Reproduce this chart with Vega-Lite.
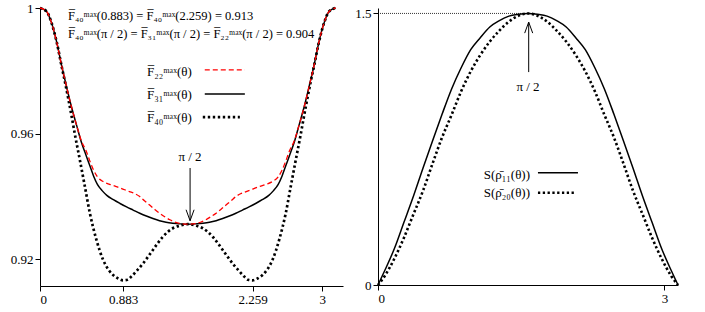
{
  "$schema": "https://vega.github.io/schema/vega-lite/v6.json",
  "padding": {"left": 10, "top": 2, "right": 0, "bottom": 0},
  "bounds": "flush",
  "spacing": 35,
  "config": {
    "view": {"stroke": null},
    "axis": {"grid": false, "domainColor": "black", "tickColor": "black", "labelColor": "black", "labelFont": "Liberation Serif", "labelFontSize": 13, "tickSize": 5, "labelPadding": 2, "domainWidth": 1, "tickWidth": 1},
    "text": {"font": "Liberation Serif", "fontSize": 13, "color": "black"},
    "line": {"interpolate": "monotone"}
  },
  "datasets": {
    "left": [
      {"s": "F31", "t": 0, "v": 1.0}, {"s": "F31", "t": 0.07, "v": 0.9989}, {"s": "F31", "t": 0.12, "v": 0.9955}, {"s": "F31", "t": 0.18, "v": 0.9888}, {"s": "F31", "t": 0.23, "v": 0.9816}, {"s": "F31", "t": 0.28, "v": 0.9752}, {"s": "F31", "t": 0.33, "v": 0.969}, {"s": "F31", "t": 0.39, "v": 0.9625}, {"s": "F31", "t": 0.44, "v": 0.9572}, {"s": "F31", "t": 0.49, "v": 0.953}, {"s": "F31", "t": 0.53, "v": 0.9497}, {"s": "F31", "t": 0.57, "v": 0.9464}, {"s": "F31", "t": 0.61, "v": 0.9438}, {"s": "F31", "t": 0.66, "v": 0.9418}, {"s": "F31", "t": 0.71, "v": 0.9403}, {"s": "F31", "t": 0.78, "v": 0.9389}, {"s": "F31", "t": 0.85, "v": 0.9377}, {"s": "F31", "t": 0.92, "v": 0.9366}, {"s": "F31", "t": 0.99, "v": 0.9356}, {"s": "F31", "t": 1.06, "v": 0.9346}, {"s": "F31", "t": 1.13, "v": 0.9337}, {"s": "F31", "t": 1.2, "v": 0.9329}, {"s": "F31", "t": 1.27, "v": 0.9322}, {"s": "F31", "t": 1.34, "v": 0.9317}, {"s": "F31", "t": 1.41, "v": 0.9314}, {"s": "F31", "t": 1.49, "v": 0.9312}, {"s": "F31", "t": 1.5708, "v": 0.9311},
      {"s": "F31", "t": 1.6516, "v": 0.9312}, {"s": "F31", "t": 1.7316, "v": 0.9314}, {"s": "F31", "t": 1.8016, "v": 0.9317}, {"s": "F31", "t": 1.8716, "v": 0.9322}, {"s": "F31", "t": 1.9416, "v": 0.9329}, {"s": "F31", "t": 2.0116, "v": 0.9337}, {"s": "F31", "t": 2.0816, "v": 0.9346}, {"s": "F31", "t": 2.1516, "v": 0.9356}, {"s": "F31", "t": 2.2216, "v": 0.9366}, {"s": "F31", "t": 2.2916, "v": 0.9377}, {"s": "F31", "t": 2.3616, "v": 0.9389}, {"s": "F31", "t": 2.4316, "v": 0.9403}, {"s": "F31", "t": 2.4816, "v": 0.9418}, {"s": "F31", "t": 2.5316, "v": 0.9438}, {"s": "F31", "t": 2.5716, "v": 0.9464}, {"s": "F31", "t": 2.6116, "v": 0.9497}, {"s": "F31", "t": 2.6516, "v": 0.953}, {"s": "F31", "t": 2.7016, "v": 0.9572}, {"s": "F31", "t": 2.7516, "v": 0.9625}, {"s": "F31", "t": 2.8116, "v": 0.969}, {"s": "F31", "t": 2.8616, "v": 0.9752}, {"s": "F31", "t": 2.9116, "v": 0.9816}, {"s": "F31", "t": 2.9616, "v": 0.9888}, {"s": "F31", "t": 3.0216, "v": 0.9955}, {"s": "F31", "t": 3.0716, "v": 0.9989}, {"s": "F31", "t": 3.1416, "v": 1.0},

      {"s": "F22", "t": 0, "v": 1.0}, {"s": "F22", "t": 0.07, "v": 0.9989}, {"s": "F22", "t": 0.12, "v": 0.9955}, {"s": "F22", "t": 0.18, "v": 0.9888}, {"s": "F22", "t": 0.23, "v": 0.9816}, {"s": "F22", "t": 0.28, "v": 0.9752}, {"s": "F22", "t": 0.33, "v": 0.969}, {"s": "F22", "t": 0.39, "v": 0.9625}, {"s": "F22", "t": 0.44, "v": 0.9576}, {"s": "F22", "t": 0.49, "v": 0.9545}, {"s": "F22", "t": 0.53, "v": 0.9512}, {"s": "F22", "t": 0.57, "v": 0.9483}, {"s": "F22", "t": 0.61, "v": 0.9462}, {"s": "F22", "t": 0.67, "v": 0.9447}, {"s": "F22", "t": 0.74, "v": 0.9438}, {"s": "F22", "t": 0.81, "v": 0.9431}, {"s": "F22", "t": 0.88, "v": 0.9423}, {"s": "F22", "t": 0.95, "v": 0.9415}, {"s": "F22", "t": 1.01, "v": 0.9408}, {"s": "F22", "t": 1.06, "v": 0.9399}, {"s": "F22", "t": 1.11, "v": 0.9386}, {"s": "F22", "t": 1.165, "v": 0.9372}, {"s": "F22", "t": 1.22, "v": 0.9358}, {"s": "F22", "t": 1.27, "v": 0.9346}, {"s": "F22", "t": 1.33, "v": 0.9334}, {"s": "F22", "t": 1.38, "v": 0.9325}, {"s": "F22", "t": 1.43, "v": 0.9318}, {"s": "F22", "t": 1.49, "v": 0.9313}, {"s": "F22", "t": 1.5708, "v": 0.9311},
      {"s": "F22", "t": 1.6516, "v": 0.9313}, {"s": "F22", "t": 1.7116, "v": 0.9318}, {"s": "F22", "t": 1.7616, "v": 0.9325}, {"s": "F22", "t": 1.8116, "v": 0.9334}, {"s": "F22", "t": 1.8716, "v": 0.9346}, {"s": "F22", "t": 1.9216, "v": 0.9358}, {"s": "F22", "t": 1.9766, "v": 0.9372}, {"s": "F22", "t": 2.0316, "v": 0.9386}, {"s": "F22", "t": 2.0816, "v": 0.9399}, {"s": "F22", "t": 2.1316, "v": 0.9408}, {"s": "F22", "t": 2.1916, "v": 0.9415}, {"s": "F22", "t": 2.2616, "v": 0.9423}, {"s": "F22", "t": 2.3316, "v": 0.9431}, {"s": "F22", "t": 2.4016, "v": 0.9438}, {"s": "F22", "t": 2.4716, "v": 0.9447}, {"s": "F22", "t": 2.5316, "v": 0.9462}, {"s": "F22", "t": 2.5716, "v": 0.9483}, {"s": "F22", "t": 2.6116, "v": 0.9512}, {"s": "F22", "t": 2.6516, "v": 0.9545}, {"s": "F22", "t": 2.7016, "v": 0.9576}, {"s": "F22", "t": 2.7516, "v": 0.9625}, {"s": "F22", "t": 2.8116, "v": 0.969}, {"s": "F22", "t": 2.8616, "v": 0.9752}, {"s": "F22", "t": 2.9116, "v": 0.9816}, {"s": "F22", "t": 2.9616, "v": 0.9888}, {"s": "F22", "t": 3.0216, "v": 0.9955}, {"s": "F22", "t": 3.0716, "v": 0.9989}, {"s": "F22", "t": 3.1416, "v": 1.0},

      {"s": "F40", "t": 0, "v": 1.0}, {"s": "F40", "t": 0.07, "v": 0.9989}, {"s": "F40", "t": 0.12, "v": 0.9955}, {"s": "F40", "t": 0.18, "v": 0.9888}, {"s": "F40", "t": 0.23, "v": 0.9814}, {"s": "F40", "t": 0.265, "v": 0.9765}, {"s": "F40", "t": 0.3, "v": 0.9712}, {"s": "F40", "t": 0.336, "v": 0.9655}, {"s": "F40", "t": 0.371, "v": 0.9597}, {"s": "F40", "t": 0.424, "v": 0.9515}, {"s": "F40", "t": 0.477, "v": 0.9431}, {"s": "F40", "t": 0.53, "v": 0.9346}, {"s": "F40", "t": 0.6, "v": 0.9261}, {"s": "F40", "t": 0.671, "v": 0.9197}, {"s": "F40", "t": 0.73, "v": 0.9165}, {"s": "F40", "t": 0.777, "v": 0.9149}, {"s": "F40", "t": 0.83, "v": 0.9138}, {"s": "F40", "t": 0.883, "v": 0.9132}, {"s": "F40", "t": 0.93, "v": 0.9134}, {"s": "F40", "t": 0.971, "v": 0.9144}, {"s": "F40", "t": 1.03, "v": 0.9163}, {"s": "F40", "t": 1.095, "v": 0.9186}, {"s": "F40", "t": 1.15, "v": 0.9208}, {"s": "F40", "t": 1.2, "v": 0.9229}, {"s": "F40", "t": 1.25, "v": 0.925}, {"s": "F40", "t": 1.306, "v": 0.9271}, {"s": "F40", "t": 1.36, "v": 0.9287}, {"s": "F40", "t": 1.412, "v": 0.9298}, {"s": "F40", "t": 1.48, "v": 0.9306}, {"s": "F40", "t": 1.5708, "v": 0.9311},
      {"s": "F40", "t": 1.6616, "v": 0.9306}, {"s": "F40", "t": 1.7296, "v": 0.9298}, {"s": "F40", "t": 1.7816, "v": 0.9287}, {"s": "F40", "t": 1.8356, "v": 0.9271}, {"s": "F40", "t": 1.8916, "v": 0.925}, {"s": "F40", "t": 1.9416, "v": 0.9229}, {"s": "F40", "t": 1.9916, "v": 0.9208}, {"s": "F40", "t": 2.0466, "v": 0.9186}, {"s": "F40", "t": 2.1116, "v": 0.9163}, {"s": "F40", "t": 2.1706, "v": 0.9144}, {"s": "F40", "t": 2.2116, "v": 0.9134}, {"s": "F40", "t": 2.2586, "v": 0.9132}, {"s": "F40", "t": 2.3116, "v": 0.9138}, {"s": "F40", "t": 2.3646, "v": 0.9149}, {"s": "F40", "t": 2.4116, "v": 0.9165}, {"s": "F40", "t": 2.4706, "v": 0.9197}, {"s": "F40", "t": 2.5416, "v": 0.9261}, {"s": "F40", "t": 2.6116, "v": 0.9346}, {"s": "F40", "t": 2.6646, "v": 0.9431}, {"s": "F40", "t": 2.7176, "v": 0.9515}, {"s": "F40", "t": 2.7706, "v": 0.9597}, {"s": "F40", "t": 2.8056, "v": 0.9655}, {"s": "F40", "t": 2.8416, "v": 0.9712}, {"s": "F40", "t": 2.8766, "v": 0.9765}, {"s": "F40", "t": 2.9116, "v": 0.9814}, {"s": "F40", "t": 2.9616, "v": 0.9888}, {"s": "F40", "t": 3.0216, "v": 0.9955}, {"s": "F40", "t": 3.0716, "v": 0.9989}, {"s": "F40", "t": 3.1416, "v": 1.0}
    ],
    "right": [
      {"s": "S11", "t": 0, "v": 0}, {"s": "S11", "t": 0.0708, "v": 0.08}, {"s": "S11", "t": 0.1708, "v": 0.2}, {"s": "S11", "t": 0.2708, "v": 0.345}, {"s": "S11", "t": 0.3708, "v": 0.49}, {"s": "S11", "t": 0.4708, "v": 0.645}, {"s": "S11", "t": 0.5708, "v": 0.796}, {"s": "S11", "t": 0.6708, "v": 0.943}, {"s": "S11", "t": 0.7708, "v": 1.083}, {"s": "S11", "t": 0.8708, "v": 1.2}, {"s": "S11", "t": 0.9708, "v": 1.3}, {"s": "S11", "t": 1.0708, "v": 1.366}, {"s": "S11", "t": 1.1708, "v": 1.425}, {"s": "S11", "t": 1.2708, "v": 1.46}, {"s": "S11", "t": 1.3708, "v": 1.485}, {"s": "S11", "t": 1.4708, "v": 1.495}, {"s": "S11", "t": 1.5708, "v": 1.5},
      {"s": "S11", "t": 1.6708, "v": 1.495}, {"s": "S11", "t": 1.7708, "v": 1.485}, {"s": "S11", "t": 1.8708, "v": 1.46}, {"s": "S11", "t": 1.9708, "v": 1.425}, {"s": "S11", "t": 2.0708, "v": 1.366}, {"s": "S11", "t": 2.1708, "v": 1.3}, {"s": "S11", "t": 2.2708, "v": 1.2}, {"s": "S11", "t": 2.3708, "v": 1.083}, {"s": "S11", "t": 2.4708, "v": 0.943}, {"s": "S11", "t": 2.5708, "v": 0.796}, {"s": "S11", "t": 2.6708, "v": 0.645}, {"s": "S11", "t": 2.7708, "v": 0.49}, {"s": "S11", "t": 2.8708, "v": 0.345}, {"s": "S11", "t": 2.9708, "v": 0.2}, {"s": "S11", "t": 3.0708, "v": 0.08}, {"s": "S11", "t": 3.1416, "v": 0},
      {"s": "S20", "t": 0, "v": 0}, {"s": "S20", "t": 0.0708, "v": 0.05}, {"s": "S20", "t": 0.1708, "v": 0.145}, {"s": "S20", "t": 0.2708, "v": 0.26}, {"s": "S20", "t": 0.3708, "v": 0.39}, {"s": "S20", "t": 0.4708, "v": 0.52}, {"s": "S20", "t": 0.5708, "v": 0.67}, {"s": "S20", "t": 0.6708, "v": 0.815}, {"s": "S20", "t": 0.7708, "v": 0.94}, {"s": "S20", "t": 0.8708, "v": 1.07}, {"s": "S20", "t": 0.9708, "v": 1.18}, {"s": "S20", "t": 1.0708, "v": 1.27}, {"s": "S20", "t": 1.1708, "v": 1.345}, {"s": "S20", "t": 1.2708, "v": 1.405}, {"s": "S20", "t": 1.3708, "v": 1.455}, {"s": "S20", "t": 1.4708, "v": 1.487}, {"s": "S20", "t": 1.5708, "v": 1.5},
      {"s": "S20", "t": 1.6708, "v": 1.487}, {"s": "S20", "t": 1.7708, "v": 1.455}, {"s": "S20", "t": 1.8708, "v": 1.405}, {"s": "S20", "t": 1.9708, "v": 1.345}, {"s": "S20", "t": 2.0708, "v": 1.27}, {"s": "S20", "t": 2.1708, "v": 1.18}, {"s": "S20", "t": 2.2708, "v": 1.07}, {"s": "S20", "t": 2.3708, "v": 0.94}, {"s": "S20", "t": 2.4708, "v": 0.815}, {"s": "S20", "t": 2.5708, "v": 0.67}, {"s": "S20", "t": 2.6708, "v": 0.52}, {"s": "S20", "t": 2.7708, "v": 0.39}, {"s": "S20", "t": 2.8708, "v": 0.26}, {"s": "S20", "t": 2.9708, "v": 0.145}, {"s": "S20", "t": 3.0708, "v": 0.05}, {"s": "S20", "t": 3.1416, "v": 0}
    ]
  },
  "hconcat": [
    {
      "width": 303,
      "height": 278,
      "layer": [
        {"data": {"name": "left"}, "transform": [{"filter": "datum.s === 'F40'"}], "mark": {"type": "line", "color": "black", "strokeWidth": 2.7, "strokeDash": [2.4, 2.6]},
         "encoding": {
           "x": {"field": "t", "type": "quantitative", "scale": {"domain": [0, 3.22], "nice": false, "zero": false}, "axis": {"values": [0, 0.883, 2.259, 3], "format": ".4~g", "title": null}},
           "y": {"field": "v", "type": "quantitative", "scale": {"domain": [0.9114, 1.0], "nice": false, "zero": false}, "axis": {"values": [0.92, 0.96, 1], "format": ".4~g", "title": null}}
         }},
        {"data": {"name": "left"}, "transform": [{"filter": "datum.s === 'F31'"}], "mark": {"type": "line", "color": "black", "strokeWidth": 1.5},
         "encoding": {"x": {"field": "t", "type": "quantitative"}, "y": {"field": "v", "type": "quantitative"}}},
        {"data": {"name": "left"}, "transform": [{"filter": "datum.s === 'F22'"}], "mark": {"type": "line", "color": "#ff0000", "strokeWidth": 1.3, "strokeDash": [5, 3]},
         "encoding": {"x": {"field": "t", "type": "quantitative"}, "y": {"field": "v", "type": "quantitative"}}},
        {"data": {"values": [{}]}, "mark": {"type": "text", "align": "left", "baseline": "middle", "fontSize": 12.5, "text": "F̅₄₀ᵐᵃˣ(0.883) = F̅₄₀ᵐᵃˣ(2.259) = 0.913"}, "encoding": {"x": {"datum": 0.297}, "y": {"datum": 0.9975}}},
        {"data": {"values": [{}]}, "mark": {"type": "text", "align": "left", "baseline": "middle", "fontSize": 12.5, "text": "F̅₄₀ᵐᵃˣ(π / 2) = F̅₃₁ᵐᵃˣ(π / 2) = F̅₂₂ᵐᵃˣ(π / 2) = 0.904"}, "encoding": {"x": {"datum": 0.297}, "y": {"datum": 0.9918}}},
        {"data": {"values": [{}]}, "mark": {"type": "text", "align": "right", "baseline": "middle", "text": "F̅₂₂ᵐᵃˣ(θ)"}, "encoding": {"x": {"datum": 1.613}, "y": {"datum": 0.9797}}},
        {"data": {"values": [{}]}, "mark": {"type": "text", "align": "right", "baseline": "middle", "text": "F̅₃₁ᵐᵃˣ(θ)"}, "encoding": {"x": {"datum": 1.613}, "y": {"datum": 0.9724}}},
        {"data": {"values": [{}]}, "mark": {"type": "text", "align": "right", "baseline": "middle", "text": "F̅₄₀ᵐᵃˣ(θ)"}, "encoding": {"x": {"datum": 1.613}, "y": {"datum": 0.965}}},
        {"data": {"values": [{}]}, "mark": {"type": "rule", "color": "#ff0000", "strokeWidth": 1.3, "strokeDash": [5, 3]}, "encoding": {"x": {"datum": 1.751}, "x2": {"datum": 2.177}, "y": {"datum": 0.9803}}},
        {"data": {"values": [{}]}, "mark": {"type": "rule", "color": "black", "strokeWidth": 1.5}, "encoding": {"x": {"datum": 1.751}, "x2": {"datum": 2.177}, "y": {"datum": 0.9726}}},
        {"data": {"values": [{}]}, "mark": {"type": "rule", "color": "black", "strokeWidth": 2.7, "strokeDash": [2.4, 2.6]}, "encoding": {"x": {"datum": 1.73}, "x2": {"datum": 2.124}, "y": {"datum": 0.9652}}},
        {"data": {"values": [{}]}, "mark": {"type": "text", "align": "center", "baseline": "middle", "text": "π / 2"}, "encoding": {"x": {"datum": 1.594}, "y": {"datum": 0.95255}}},
        {"data": {"values": [{}]}, "mark": {"type": "rule", "color": "black", "strokeWidth": 1}, "encoding": {"x": {"datum": 1.595}, "y": {"datum": 0.949}, "y2": {"datum": 0.9322}}},
        {"data": {"values": [{}]}, "mark": {"type": "point", "shape": "M-1,-2.75L0,0L1,-2.75", "size": 64, "filled": false, "stroke": "black", "strokeWidth": 1, "opacity": 1}, "encoding": {"x": {"datum": 1.595}, "y": {"datum": 0.9322}}}
      ]
    },
    {
      "width": 300,
      "height": 277,
      "layer": [
        {"data": {"name": "right"}, "transform": [{"filter": "datum.s === 'S20'"}], "mark": {"type": "line", "color": "black", "strokeWidth": 2.6, "strokeDash": [2.3, 2.5]},
         "encoding": {
           "x": {"field": "t", "type": "quantitative", "scale": {"domain": [0, 3.1416], "nice": false, "zero": false}, "axis": {"values": [0, 3], "format": ".4~g", "title": null}},
           "y": {"field": "v", "type": "quantitative", "scale": {"domain": [0, 1.53], "nice": false, "zero": false}, "axis": {"values": [0, 1.5], "format": ".4~g", "title": null}}
         }},
        {"data": {"name": "right"}, "transform": [{"filter": "datum.s === 'S11'"}], "mark": {"type": "line", "color": "black", "strokeWidth": 1.5},
         "encoding": {"x": {"field": "t", "type": "quantitative"}, "y": {"field": "v", "type": "quantitative"}}},
        {"data": {"values": [{}]}, "mark": {"type": "rule", "color": "black", "strokeWidth": 0.8, "strokeDash": [1, 1]}, "encoding": {"x": {"datum": 0}, "x2": {"datum": 1.644}, "y": {"datum": 1.5}}},
        {"data": {"values": [{}]}, "mark": {"type": "text", "align": "center", "baseline": "middle", "text": "π / 2"}, "encoding": {"x": {"datum": 1.571}, "y": {"datum": 1.0933}}},
        {"data": {"values": [{}]}, "mark": {"type": "rule", "color": "black", "strokeWidth": 1}, "encoding": {"x": {"datum": 1.578}, "y": {"datum": 1.176}, "y2": {"datum": 1.452}}},
        {"data": {"values": [{}]}, "mark": {"type": "point", "shape": "M-1,2.75L0,0L1,2.75", "size": 64, "filled": false, "stroke": "black", "strokeWidth": 1, "opacity": 1}, "encoding": {"x": {"datum": 1.578}, "y": {"datum": 1.452}}},
        {"data": {"values": [{}]}, "mark": {"type": "text", "align": "right", "baseline": "middle", "text": "S(ρ̄₁₁(θ))"}, "encoding": {"x": {"datum": 1.592}, "y": {"datum": 0.6074}}},
        {"data": {"values": [{}]}, "mark": {"type": "text", "align": "right", "baseline": "middle", "text": "S(ρ̄₂₀(θ))"}, "encoding": {"x": {"datum": 1.592}, "y": {"datum": 0.5064}}},
        {"data": {"values": [{}]}, "mark": {"type": "rule", "color": "black", "strokeWidth": 1.5}, "encoding": {"x": {"datum": 1.675}, "x2": {"datum": 2.094}, "y": {"datum": 0.6201}}},
        {"data": {"values": [{}]}, "mark": {"type": "rule", "color": "black", "strokeWidth": 2.6, "strokeDash": [2.3, 2.5]}, "encoding": {"x": {"datum": 1.675}, "x2": {"datum": 2.063}, "y": {"datum": 0.5097}}}
      ]
    }
  ]
}
